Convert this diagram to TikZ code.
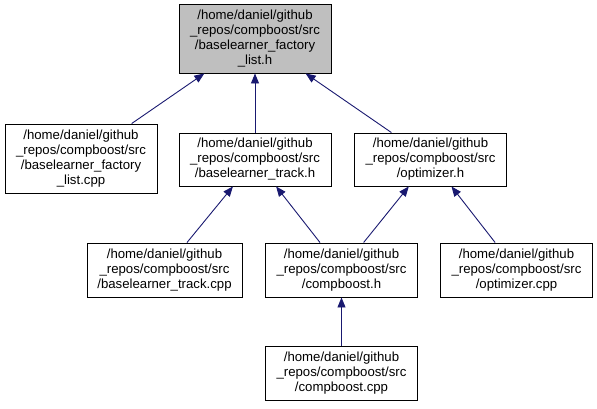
\documentclass[tikz,border=0pt]{standalone}
\usepackage{fontspec}
\setmainfont{Liberation Sans}
\usetikzlibrary{arrows.meta}
\definecolor{DoxBlue}{RGB}{25,25,112}
\definecolor{DoxGray}{RGB}{191,191,191}

\begin{document}
\begin{tikzpicture}[x=1pt,y=-1pt,
  file/.style={draw=black,line width=0.9pt,fill=white,align=center,minimum width=152pt,inner sep=2pt,
    font=\fontsize{13.2}{15}\selectfont},
  curfile/.style={file,fill=DoxGray},
  incl/.style={draw=DoxBlue,line width=0.9pt,-{Triangle[length=10pt,width=8pt]}}]
\useasboundingbox (0,0) rectangle (597,408);
\node[curfile,minimum height=69pt] (flh) at (255,38.5) {/home/daniel/github\\\_repos/compboost/src\\/baselearner\_factory\\\_list.h};
\node[file,minimum height=69pt] (flcpp) at (81,158.5) {/home/daniel/github\\\_repos/compboost/src\\/baselearner\_factory\\\_list.cpp};
\node[file,minimum height=53pt] (trh) at (255,159.5) {/home/daniel/github\\\_repos/compboost/src\\/baselearner\_track.h};
\node[file,minimum height=53pt] (opth) at (430.5,159.5) {/home/daniel/github\\\_repos/compboost/src\\/optimizer.h};
\node[file,minimum height=54pt,minimum width=155pt] (trcpp) at (164.5,270) {/home/daniel/github\\\_repos/compboost/src\\/baselearner\_track.cpp};
\node[file,minimum height=54pt] (cbh) at (341.5,270) {/home/daniel/github\\\_repos/compboost/src\\/compboost.h};
\node[file,minimum height=54pt] (optcpp) at (516.5,270) {/home/daniel/github\\\_repos/compboost/src\\/optimizer.cpp};
\node[file,minimum height=54pt] (cbcpp) at (341.5,373) {/home/daniel/github\\\_repos/compboost/src\\/compboost.cpp};
% include edges
\draw[incl] (flcpp) -- (flh);
\draw[incl] (trh) -- (flh);
\draw[incl] (opth) -- (flh);
\draw[incl] (trcpp) -- (trh);
\draw[incl] (cbh) -- (trh);
\draw[incl] (cbh) -- (opth);
\draw[incl] (optcpp) -- (opth);
\draw[incl] (cbcpp) -- (cbh);
\end{tikzpicture}
\end{document}
